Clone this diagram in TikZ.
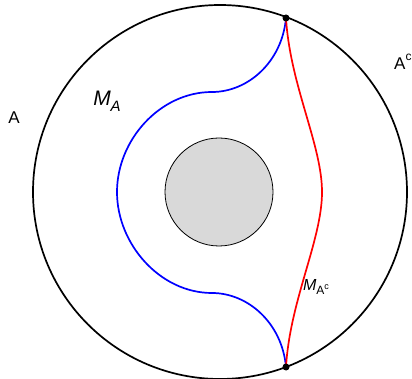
\documentclass[tikz,border=0pt]{standalone}
\usepackage{fontspec}
\setmainfont{Liberation Sans}
\begin{document}
\begin{tikzpicture}[x=1pt,y=-1pt,
  lbl/.style={inner sep=0pt},
  dot/.style={circle,fill=black,inner sep=0pt,minimum size=7pt}]
\useasboundingbox (0,0) rectangle (412,379);
\coordinate (O) at (220,192);
\draw[line width=1.7pt] (O) circle (187);
\draw[fill=black!15,line width=0.8pt] (219,192) circle (54);
\coordinate (top) at (286,18);
\coordinate (bot) at (286,367);
\draw[blue,line width=1.7pt] (top) .. controls (282,62) and (248,92) .. (212,92)
  .. controls (160,92) and (117,140) .. (117,192)
  .. controls (117,244) and (160,293) .. (212,293)
  .. controls (248,293) and (282,323) .. (bot);
\draw[red,line width=1.7pt] (top) .. controls (290,85) and (322,145) .. (322,192)
  .. controls (322,240) and (290,300) .. (bot);
\node[dot] (p1) at (top) {};
\node[dot] (p2) at (bot) {};
\node[lbl,font=\fontsize{17}{20}\selectfont] (a) at (14,118) {A};
\node[lbl,font=\fontsize{17}{20}\selectfont,anchor=west] (ac) at (394,62) {A\raisebox{0.55em}{\fontsize{12}{14}\selectfont c}};
\node[lbl,font=\fontsize{21}{24}\selectfont] (ma) at (107,101) {\textit{M}\raisebox{-0.3em}{\fontsize{15}{17}\selectfont\textit{A}}};
\node[lbl,font=\fontsize{16}{19}\selectfont] (mac) at (316,287) {\textit{M}\raisebox{-0.25em}{\fontsize{12}{14}\selectfont A\raisebox{0.45em}{\fontsize{9}{10}\selectfont c}}};
\end{tikzpicture}
\end{document}
